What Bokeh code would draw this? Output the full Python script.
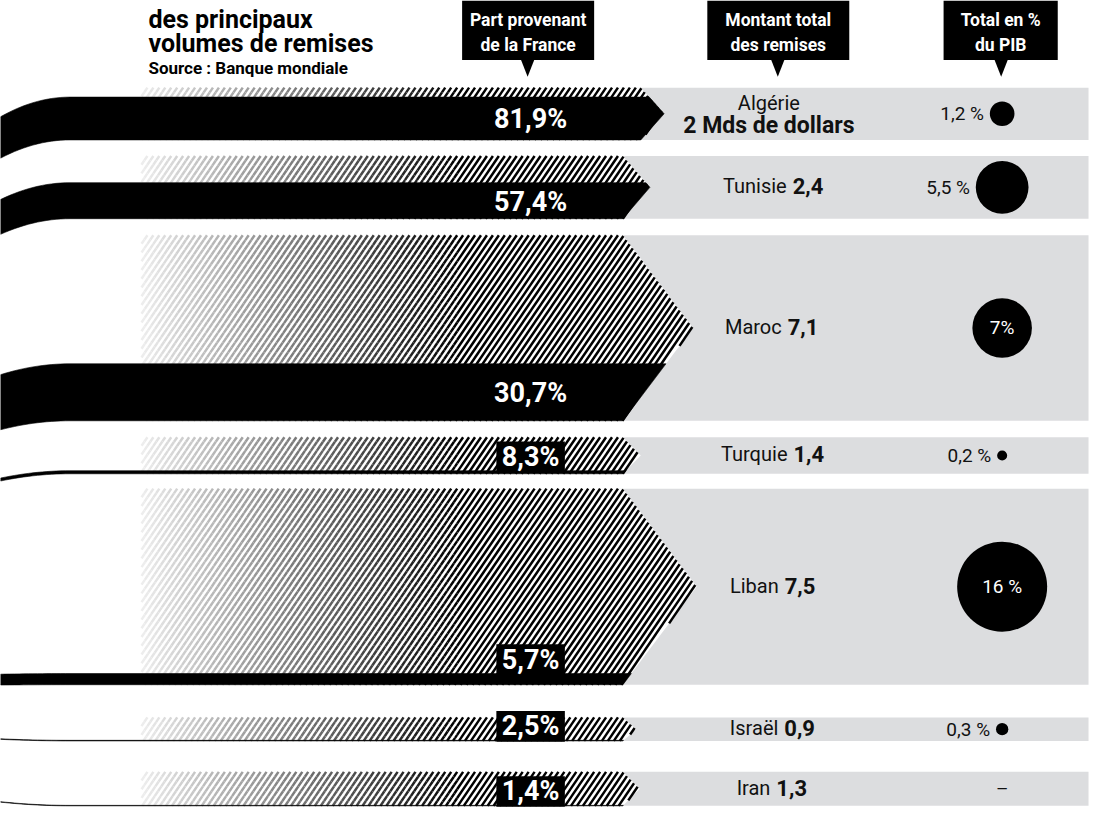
import numpy as np
from bokeh.plotting import figure
from bokeh.models import Range1d
from bokeh.core.properties import value
from bokeh.embed import file_html
from bokeh.resources import INLINE

# ---------------- data ----------------
countries = ["Algérie", "Tunisie", "Maroc", "Turquie", "Liban", "Israël", "Iran"]
total_mds = [2.0, 2.4, 7.1, 1.4, 7.5, 0.9, 1.3]
total_labels = ["2 Mds de dollars", "2,4", "7,1", "1,4", "7,5", "0,9", "1,3"]
share_france = [81.9, 57.4, 30.7, 8.3, 5.7, 2.5, 1.4]
share_labels = ["81,9%", "57,4%", "30,7%", "8,3%", "5,7%", "2,5%", "1,4%"]
pib_pct = [1.2, 5.5, 7.0, 0.2, 16.0, 0.3, None]
pib_labels = ["1,2 %", "5,5 %", "7%", "0,2 %", "16 %", "0,3 %", "–"]
header_labels = [["Part provenant", "de la France"],
                 ["Montant total", "des remises"],
                 ["Total en %", "du PIB"]]
title_lines = ["des principaux", "volumes de remises"]
source_text = "Source : Banque mondiale"

# ---------------- layout ----------------
band_tops = [88, 157, 237, 441, 493, 724, 779]
arrow_base = [645, 627, 627, 627, 627, 627, 627]
PX_PER_MD = 26.4
HATCH_X0 = 142
GRAD_X1 = 460
CURVE_X = 70
FOCUS_Y = 700
BAND_RIGHT = 1096
GRAY = "#dcdddf"
COL_PCT = 534
COL_TOT = 778
COL_PIB = 1009
R16 = 45.0
FONT = "Roboto"
W, H = 1091, 807          # drawable size inside the page margin
XMAX, YMAX = 1099, 815    # reference coordinate space

n = len(countries)
tops = np.array(band_tops, float)
heights = np.array(total_mds) * PX_PER_MD
bots = tops + heights
ycs = (tops + bots) / 2
halfs = heights / 2
offs = 0.7 * halfs + 5
btops = bots - np.array(share_france) / 100.0 * heights

p = figure(width=W, height=H, x_range=Range1d(0, XMAX), y_range=Range1d(YMAX, 0),
           output_backend="svg", toolbar_location=None, min_border=0,
           x_axis_location=None, y_axis_location=None)
p.grid.visible = False
p.outline_line_color = None
p.background_fill_color = "white"
p.border_fill_color = "white"

# gray bands
p.quad(left=[620] * n, right=[BAND_RIGHT] * n, top=list(tops), bottom=list(bots),
       fill_color=GRAY, line_color=None)

# chevrons (white under stripes)
cxs, cys = [], []
for i in range(n):
    b = arrow_base[i]
    cxs.append([HATCH_X0, b, b + offs[i], b, HATCH_X0])
    cys.append([tops[i], tops[i], ycs[i], bots[i], bots[i]])
p.patches(cxs, cys, fill_color="white", line_color=None)

# stripes
K = 0.68
SP = 6.0
sx0, sy0, sx1, sy1, scol = [], [], [], [], []


def gcol(x):
    t = min(max((x - HATCH_X0) / (GRAD_X1 - HATCH_X0), 0.0), 1.0)
    g = int(round(238 * (1 - t)))
    return "#%02x%02x%02x" % (g, g, g)


for i in range(n):
    top, bot, yc, half, h = tops[i], bots[i], ycs[i], halfs[i], heights[i]
    b = arrow_base[i]
    ys = np.linspace(top, bot, int(h * 6) + 2)
    xr = b + offs[i] * (1 - np.abs(ys - yc) / half)
    for xs0 in np.arange(HATCH_X0 - K * h, b + offs[i] + SP, SP):
        xs = xs0 + K * (bot - ys)
        m = (xs >= HATCH_X0) & (xs <= xr)
        if not m.any():
            continue
        ya, yb = ys[m].min(), ys[m].max()
        if yb - ya < 0.3:
            continue
        yg = bot - (GRAD_X1 - xs0) / K
        if yg > ya:
            yend = min(yb, yg)
            sx0.append(xs0 + K * (bot - ya)); sy0.append(ya)
            sx1.append(xs0 + K * (bot - yend)); sy1.append(yend)
            scol.append("#000000")
        gs = max(ya, yg)
        if yb > gs:
            npc = max(1, int(np.ceil((yb - gs) / 5.0)))
            edges = np.linspace(gs, yb, npc + 1)
            for a, c in zip(edges[:-1], edges[1:]):
                xa = xs0 + K * (bot - a)
                xc = xs0 + K * (bot - c)
                sx0.append(xa); sy0.append(a)
                sx1.append(xc); sy1.append(c)
                scol.append(gcol((xa + xc) / 2))
p.segment(x0=sx0, y0=sy0, x1=sx1, y1=sy1, line_color=scol, line_width=2.5)

# black flows (share from France)
bxs, bys = [], []
cx = np.linspace(0, CURVE_X, 16)
f = ((CURVE_X - cx) / CURVE_X) ** 2
for i in range(n):
    b = arrow_base[i]
    bt, bb = btops[i], bots[i]

    def xr_at(y):
        return b + offs[i] * (1 - abs(y - ycs[i]) / halfs[i])

    top_y = bt + 0.033 * (FOCUS_Y - bt) * f
    bot_y = bb + 0.033 * (FOCUS_Y - bb) * f
    xs = list(cx) + [xr_at(bt)]
    ys = list(top_y) + [bt]
    if bt < ycs[i]:
        xs.append(b + offs[i]); ys.append(ycs[i])
    xs.append(b); ys.append(bb)
    xs += list(cx[::-1]); ys += list(bot_y[::-1])
    bxs.append(xs); bys.append(ys)
p.patches(bxs, bys, fill_color="black", line_color="black", line_width=0.6)

# share labels
in_x, in_y, in_t = [], [], []
bx_top, bx_bot, bx_t, bx_y = [], [], [], []
for i in range(n):
    if bots[i] - btops[i] > 30:
        in_x.append(COL_PCT); in_y.append((btops[i] + bots[i]) / 2 + 1); in_t.append(share_labels[i])
    else:
        bbot = btops[i] + 1.5
        bx_top.append(bbot - 31); bx_bot.append(bbot)
        bx_t.append(share_labels[i]); bx_y.append(bbot - 15.5)
p.quad(left=[COL_PCT - 34.5] * len(bx_t), right=[COL_PCT + 34.5] * len(bx_t),
       top=bx_top, bottom=bx_bot, fill_color="black", line_color=None)
p.text(x=in_x + [COL_PCT] * len(bx_t), y=in_y + bx_y, text=in_t + bx_t,
       text_color="white", text_font=value(FONT), text_font_style="bold",
       text_font_size="27px", text_align="center", text_baseline="middle")


def est_w(s, fs, bold=False):
    w = 0.0
    for ch in s:
        if ch in "iIlj,.'ï":
            w += 0.26
        elif ch in "rtf ":
            w += 0.34
        elif ch in "mwMW":
            w += 0.86
        elif ch.isupper():
            w += 0.64
        elif ch.isdigit():
            w += 0.58 if bold else 0.56
        else:
            w += 0.54
    return w * fs * (1.04 if bold else 1.0)


NFS, VFS = 20, 22
nm_x, nm_y, nm_t = [], [], []
vl_x, vl_y, vl_t = [], [], []
for i in range(1, n):
    wn = est_w(countries[i], NFS)
    wv = est_w(total_labels[i], VFS, True)
    left = COL_TOT - (wn + 6 + wv) / 2
    nm_x.append(left + wn); nm_y.append(ycs[i] - 1); nm_t.append(countries[i])
    vl_x.append(left + wn + 6); vl_y.append(ycs[i] - 1); vl_t.append(total_labels[i])
p.text(x=[COL_TOT - 4], y=[ycs[0] - 11], text=[countries[0]], text_color="#111111",
       text_font=value(FONT), text_font_size="%dpx" % NFS, text_align="center",
       text_baseline="middle")
p.text(x=[COL_TOT - 4], y=[ycs[0] + 12], text=[total_labels[0]], text_color="#111111",
       text_font=value(FONT), text_font_style="bold", text_font_size="23px",
       text_align="center", text_baseline="middle")
p.text(x=nm_x, y=nm_y, text=nm_t, text_color="#111111", text_font=value(FONT),
       text_font_size="%dpx" % NFS, text_align="right", text_baseline="middle")
p.text(x=vl_x, y=vl_y, text=vl_t, text_color="#111111", text_font=value(FONT),
       text_font_style="bold", text_font_size="%dpx" % VFS, text_align="left",
       text_baseline="middle")

# PIB circles
c_y, c_s = [], []
out_x, out_y, out_t = [], [], []
inn_x, inn_y, inn_t = [], [], []
dash_x, dash_y, dash_t = [], [], []
for i in range(n):
    v = pib_pct[i]
    if v is None:
        dash_x.append(COL_PIB); dash_y.append(ycs[i]); dash_t.append(pib_labels[i])
        continue
    r = R16 * np.sqrt(v / 16.0)
    c_y.append(ycs[i]); c_s.append(2 * r)
    if r > 28:
        inn_x.append(COL_PIB); inn_y.append(ycs[i]); inn_t.append(pib_labels[i])
    else:
        out_x.append(COL_PIB - r - 6); out_y.append(ycs[i]); out_t.append(pib_labels[i])
p.scatter(x=[COL_PIB] * len(c_y), y=c_y, size=c_s, fill_color="black", line_color=None)
p.text(x=out_x, y=out_y, text=out_t, text_color="#111111", text_font=value(FONT),
       text_font_size="19px", text_align="right", text_baseline="middle")
p.text(x=inn_x, y=inn_y, text=inn_t, text_color="white", text_font=value(FONT),
       text_font_size="19px", text_align="center", text_baseline="middle")
p.text(x=dash_x, y=dash_y, text=dash_t, text_color="#111111", text_font=value(FONT),
       text_font_size="19px", text_align="center", text_baseline="middle")

# header boxes with pointers
hb_left = [465, 712, 950]
hb_right = [598, 855, 1065]
hb_ptr = [531, 783, 1008]
p.quad(left=hb_left, right=hb_right, top=[0] * 3, bottom=[60] * 3,
       fill_color="black", line_color=None)
p.patches([[c - 7, c + 7, c] for c in hb_ptr], [[59, 59, 77]] * 3,
          fill_color="black", line_color=None)
hx = [(l + r) / 2 for l, r in zip(hb_left, hb_right)]
p.text(x=hx + hx, y=[20] * 3 + [45] * 3,
       text=[h[0] for h in header_labels] + [h[1] for h in header_labels],
       text_color="white", text_font=value(FONT), text_font_style="bold",
       text_font_size="17.5px", text_align="center", text_baseline="middle")

# title
p.text(x=[149, 149], y=[19, 43], text=title_lines, text_color="black",
       text_font=value(FONT), text_font_style="bold", text_font_size="25px",
       text_align="left", text_baseline="alphabetic")
p.text(x=[149], y=[68], text=[source_text], text_color="black",
       text_font=value(FONT), text_font_style="bold", text_font_size="17px",
       text_align="left", text_baseline="alphabetic")

open("out.html", "w").write(file_html(p, INLINE))
